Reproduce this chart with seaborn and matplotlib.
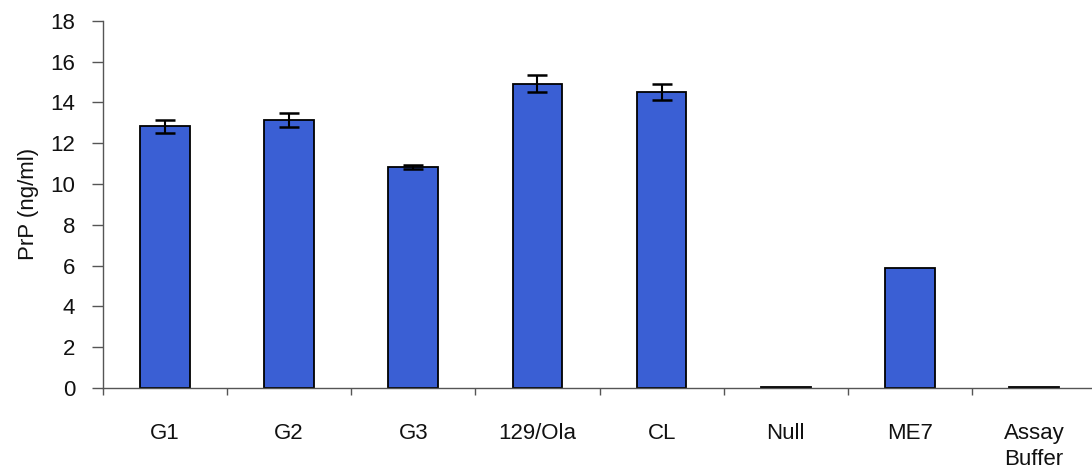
import numpy as np
import pandas as pd
import matplotlib.pyplot as plt
import seaborn as sns

# datos
categorias = ["G1", "G2", "G3", "129/Ola", "CL", "Null", "ME7", "Assay\nBuffer"]
valores = [12.82, 13.12, 10.83, 14.92, 14.52, 0.03, 5.88, 0.03]
errores = [0.32, 0.35, 0.08, 0.42, 0.40, np.nan, np.nan, np.nan]

df = pd.DataFrame({"grupo": categorias, "prp": valores})

sns.set_style("white")
plt.rcParams["font.family"] = ["Liberation Sans", "DejaVu Sans"]

fig = plt.figure(figsize=(10.92, 4.72), dpi=100)
ax = fig.add_axes([0.0943, 0.178, 0.906, 0.778])

sns.barplot(data=df, x="grupo", y="prp", color="#3a5fd4", saturation=1,
            width=0.4, edgecolor="black", linewidth=1.3, ax=ax)
ax.errorbar(np.arange(len(categorias)), valores, yerr=errores, fmt="none",
            ecolor="black", elinewidth=1.5, capsize=7, capthick=1.8)

ax.set_ylim(0, 18)
ax.set_xlim(-0.5, 7.47)
ax.set_yticks(np.arange(0, 19, 2))
ax.set_xticks(np.arange(len(categorias)))
ax.set_xticklabels(categorias, fontsize=16, linespacing=1.35)
ax.set_xticks(np.arange(len(categorias)) - 0.5, minor=True)
ax.tick_params(axis="x", which="major", length=0, pad=25, bottom=True)
ax.tick_params(axis="x", which="minor", length=5, width=1, color="#555555",
               direction="out", bottom=True)
ax.tick_params(axis="y", length=8, width=1, color="#555555", direction="out",
               labelsize=16, pad=12, left=True)
ax.tick_params(axis="both", labelcolor="#111111")

for lado in ["top", "right"]:
    ax.spines[lado].set_visible(False)
for lado in ["left", "bottom"]:
    ax.spines[lado].set_color("#555555")
    ax.spines[lado].set_linewidth(1)

ax.set_xlabel("")
ax.set_ylabel("PrP (ng/ml)", fontsize=16, color="#111111", labelpad=8)

plt.savefig("out.png", dpi=100)
